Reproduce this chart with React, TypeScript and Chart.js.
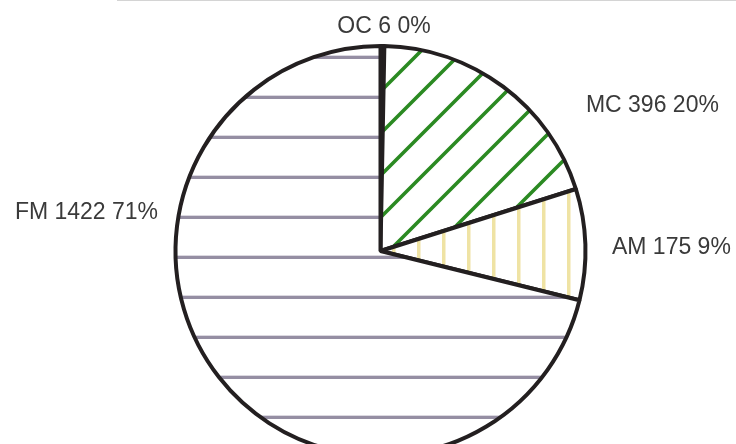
import React, { useEffect, useRef } from "react";
import { Chart, registerables } from "chart.js";

Chart.register(...registerables);

const categories: string[] = ["OC", "MC", "AM", "FM"];
const counts: number[] = [6, 396, 175, 1422];

function makePattern(kind: "h" | "d" | "v"): CanvasPattern | string {
  const c = document.createElement("canvas");
  let size = 40;
  if (kind === "d") size = 42;
  if (kind === "v") size = 25;
  c.width = size;
  c.height = size;
  const g = c.getContext("2d");
  if (!g) return "#fff";
  g.fillStyle = "#ffffff";
  g.fillRect(0, 0, size, size);
  if (kind === "h") {
    g.fillStyle = "#dcd9e1";
    g.fillRect(0, 15, size, 1);
    g.fillStyle = "#958ea3";
    g.fillRect(0, 16, size, 3);
  } else if (kind === "v") {
    g.fillStyle = "#efe3a4";
    g.fillRect(17, 0, 3, size);
    g.fillStyle = "#f7f0d2";
    g.fillRect(20, 0, 1, size);
  } else {
    g.strokeStyle = "#2b8a22";
    g.lineWidth = 3.6;
    g.beginPath();
    g.moveTo(-2, size + 2);
    g.lineTo(size + 2, -2);
    g.moveTo(-2, 2);
    g.lineTo(2, -2);
    g.moveTo(size - 2, size + 2);
    g.lineTo(size + 2, size - 2);
    g.stroke();
  }
  const p = g.createPattern(c, "repeat");
  if (!p) return "#fff";
  if (kind === "d" && (p as any).setTransform) {
    (p as any).setTransform(new DOMMatrix().translate(10, 0));
  }
  return p;
}

const labelPlugin = {
  id: "pieLabels",
  beforeDraw(chart: any) {
    const ctx = chart.ctx;
    ctx.save();
    ctx.fillStyle = "#d4d4d4";
    ctx.fillRect(117, 0, chart.width - 117, 1);
    ctx.restore();
  },
  afterDatasetsDraw(chart: any) {
    const ctx = chart.ctx;
    const meta = chart.getDatasetMeta(0);
    const arc0 = meta.data[0];
    if (!arc0) return;
    const cx = arc0.x;
    const cy = arc0.y;
    const r = arc0.outerRadius;
    const total = counts.reduce((a, b) => a + b, 0);
    const placement: { dx: number; dy: number; align: CanvasTextAlign }[] = [
      { dx: 0.017, dy: -1.063, align: "center" },
      { dx: 1.002, dy: -0.678, align: "left" },
      { dx: 1.129, dy: 0.015, align: "left" },
      { dx: -1.085, dy: -0.156, align: "right" },
    ];
    ctx.save();
    ctx.font = '23px "Liberation Sans", Arial, sans-serif';
    ctx.fillStyle = "#3a3a3a";
    ctx.textBaseline = "alphabetic";
    categories.forEach((cat, i) => {
      const pct = Math.round((counts[i] / total) * 100);
      const p = placement[i];
      ctx.textAlign = p.align;
      ctx.fillText(`${cat} ${counts[i]} ${pct}%`, cx + p.dx * r, cy + p.dy * r);
    });
    ctx.restore();
  },
};

export default function App() {
  const canvasRef = useRef<HTMLCanvasElement | null>(null);

  useEffect(() => {
    const canvas = canvasRef.current;
    if (!canvas) return;
    const chart = new Chart(canvas, {
      type: "pie",
      data: {
        labels: categories,
        datasets: [
          {
            data: counts,
            backgroundColor: [makePattern("v"), makePattern("d"), makePattern("v"), makePattern("h")] as any,
            borderColor: "#231f20",
            borderWidth: 4,
            radius: 205,
          } as any,
        ],
      },
      options: {
        animation: false,
        responsive: true,
        maintainAspectRatio: false,
        devicePixelRatio: 1,
        layout: { padding: { left: 25, right: 0, top: 0, bottom: 0 } },
        plugins: {
          legend: { display: false },
          tooltip: { enabled: false },
        },
      } as any,
      plugins: [labelPlugin],
    });
    return () => chart.destroy();
  }, []);

  return (
    <div
      style={{
        position: "fixed",
        left: 0,
        top: 0,
        width: 736,
        height: 502,
        background: "#ffffff",
      }}
    >
      <canvas ref={canvasRef} />
    </div>
  );
}
